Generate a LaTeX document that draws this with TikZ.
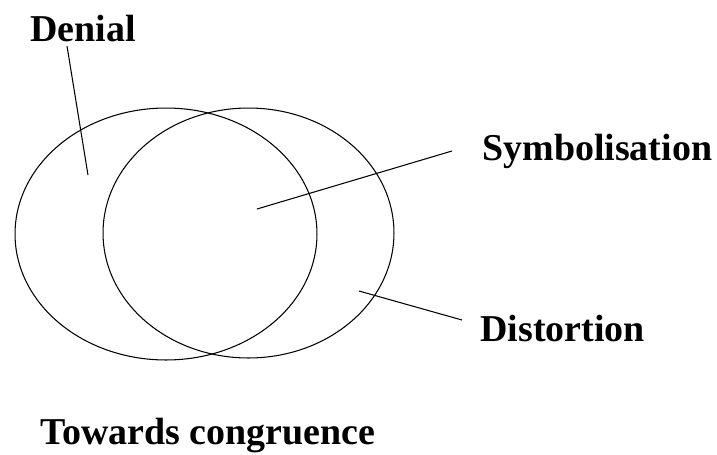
\documentclass[tikz,border=0pt]{standalone}
\usepackage{fontspec}
\setmainfont{Liberation Serif}
\usetikzlibrary{shapes.geometric}

\begin{document}
\begin{tikzpicture}[
    x=0.02cm, y=-0.02cm,
    blob/.style={draw, ellipse, line width=0.6pt, inner sep=0pt},
    label/.style={font=\fontsize{21.6}{26}\selectfont\bfseries, anchor=base west, inner sep=0pt},
    leader/.style={line width=0.6pt},
]
    \useasboundingbox (0,0) rectangle (717,454);

    % Overlapping regions
    \node[blob, minimum width=6.04cm, minimum height=5.04cm] (leftset) at (166,234) {};
    \node[blob, minimum width=5.82cm, minimum height=5.0cm] (rightset) at (248.5,233) {};

    % Labels
    \node[label] (denial) at (30,41) {Denial};
    \node[label] (symb) at (482,160) {Symbolisation};
    \node[label] (dist) at (480,341) {Distortion};
    \node[label] (caption) at (40,444) {Towards congruence};

    % Leader ends
    \coordinate (denialout) at (67,46);
    \coordinate (denialin) at (88,175);
    \coordinate (symbout) at (452,151);
    \coordinate (symbin) at (257,209);
    \coordinate (distout) at (462,320);
    \coordinate (distin) at (359,291);

    % Leaders
    \draw[leader] (denialout) -- (denialin);
    \draw[leader] (symbout) -- (symbin);
    \draw[leader] (distout) -- (distin);
\end{tikzpicture}
\end{document}
